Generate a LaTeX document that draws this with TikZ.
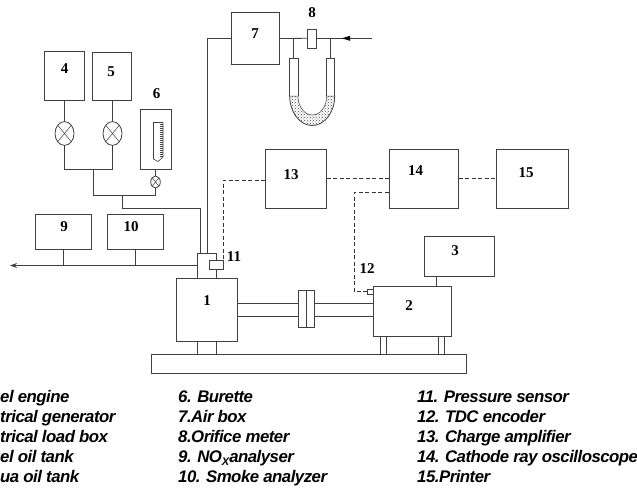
\documentclass[tikz,border=0pt]{standalone}
\usepackage{fontspec}
\setmainfont{Liberation Serif}
\newfontfamily\capfont[LetterSpace=-3]{Liberation Sans}
\usetikzlibrary{arrows.meta,patterns}
\tikzset{
  line/.style={draw=black!75,line width=0.8pt},
  dash line/.style={draw=black!80,line width=0.6pt,dash pattern=on 4pt off 2.5pt},
  num/.style={font=\fontsize{15}{15}\selectfont\bfseries,inner sep=0pt},
  captext/.style={font=\capfont\fontsize{16.8}{17}\selectfont\bfseries\itshape,anchor=base west,inner sep=0pt,text=black},
  box/.style={line,rectangle,inner sep=0pt},
  headtip/.style={-{Stealth[length=7pt,width=5pt]}},
}
\newcommand{\valve}[3]{%
  \draw[line,fill=white] (#1,#2) ellipse [x radius=#3*1.0,y radius=#3*1.25];
  \draw[line,line width=0.5pt] (#1-#3*.7,#2-#3*.85) -- (#1+#3*.7,#2+#3*.85) (#1-#3*.7,#2+#3*.85) -- (#1+#3*.7,#2-#3*.85);}
\begin{document}
\begin{tikzpicture}[x=1pt,y=-1pt]
\useasboundingbox (0,0) rectangle (637,491);
% boxes
\node[box,minimum width=40pt,minimum height=49pt] (n4) at (64.5,76) {};
\node[box,minimum width=39pt,minimum height=48.5pt] (n5) at (112,76.3) {};
\node[box,minimum width=31pt,minimum height=60pt] (n6) at (155.5,139.5) {};
\node[box,minimum width=48.5pt,minimum height=51.6pt] (n7) at (255.5,38.5) {};
\node[box,minimum width=55.5pt,minimum height=35pt] (n9) at (63.3,232) {};
\node[box,minimum width=55.5pt,minimum height=35pt] (n10) at (135.3,232) {};
\node[box,minimum width=60.5pt,minimum height=59pt] (n13) at (296,179) {};
\node[box,minimum width=69pt,minimum height=59pt] (n14) at (423.8,178.8) {};
\node[box,minimum width=72pt,minimum height=59pt] (n15) at (532.5,178.8) {};
\node[box,minimum width=70pt,minimum height=40pt] (n3) at (459,256.4) {};
\node[box,minimum width=61.3pt,minimum height=63pt] (n1) at (207,309.8) {};
\node[box,minimum width=78pt,minimum height=50pt] (n2) at (412.3,311.3) {};
\node[box,minimum width=314.3pt,minimum height=19.2pt] (base) at (308.8,363.9) {};
% pipes
\draw[line] (n4.south) -- (64.5,169.5) -- (112,169.5) -- (n5.south);
\draw[line] (93.5,169.5) -- (93.5,195.5) -- (155.5,195.5) -- (155.5,170);
\draw[line] (122.5,195.5) -- (122.5,208.5) -- (200,208.5) -- (200,253.5);
\draw[line] (n7.west) -- (207,38.5) -- (207,253.5);
% valves
\valve{64.5}{133.5}{9.5}
\valve{112.5}{133.5}{9.5}
\valve{155.5}{182}{4.8}
% burette
\draw[line,line width=0.6pt] (153.5,122.5) -- (163,122.5) -- (163,157) -- (158,161.5) -- (153.5,159) -- cycle;
\foreach \yy in {124,126,...,156} \draw[line,line width=0.5pt] (159.5,\yy) -- (163,\yy);
% exhaust
\coordinate (ex) at (197.3,265.5);
\draw[line] (n9.south) -- (63.3,265.5);
\draw[line] (n10.south) -- (135.3,265.5);
\draw[line,headtip] (ex) -- (10,265.5);
\draw[line] (197.3,278.3) -- (197.3,253.5) -- (216,253.5) -- (216,260.7);
\draw[line] (216,269.3) -- (216,278.3);
\node[box,minimum width=13.6pt,minimum height=8.6pt] (n11) at (216.5,265) {};
% shaft
\draw[line] (237.6,303.3) -- (373.3,303.3) (237.6,316) -- (373.3,316);
\draw[line,fill=white] (298.6,290) rectangle (314.6,327);
\draw[line] (306.6,290) -- (306.6,327);
% feet
\draw[line] (197.3,341.3) -- (197.3,354.3) (216.3,341.3) -- (216.3,354.3);
\draw[line] (380.5,336.3) -- (380.5,354.3) (386.5,336.3) -- (386.5,354.3);
\draw[line] (438.7,336.3) -- (438.7,354.3) (444.5,336.3) -- (444.5,354.3);
\draw[line] (436,276.4) -- (436,286.3);
% dashed
\draw[dash line] (n13.west |- 0,180.3) -- (223.3,180.3) -- (223.3,260.7);
\draw[dash line] (n13.east |- 0,178.5) -- (n14.west |- 0,178.5);
\draw[dash line] (n14.east |- 0,178.5) -- (n15.west |- 0,178.5);
\draw[dash line] (n14.west |- 0,192.7) -- (354,192.7) -- (354,291.7) -- (367,291.7);
\node[box,minimum width=6pt,minimum height=5pt,fill=white] (n12) at (370,291.5) {};
% orifice
\draw[line] (n7.east) -- (307.7,38.3);
\node[box,minimum width=8.3pt,minimum height=19.3pt,fill=white] (n8) at (311.8,38.6) {};
\draw[line] (316,38.3) -- (372,38.3);
\fill[black] (342,38.3) -- (350,35.8) -- (350,40.8) -- cycle;
\draw[line] (293.7,38.3) -- (293.7,58) (330.3,38.3) -- (330.3,58);
% manometer
\fill[pattern=crosshatch dots,pattern color=black!70] (289.7,96) arc[start angle=180,end angle=0,x radius=22.5,y radius=29.5] -- (326.7,96) arc[start angle=0,end angle=180,x radius=14.35,y radius=19] -- cycle;
\draw[line] (289.7,96) -- (289.7,58) -- (298,58) -- (298,96);
\draw[line] (326.7,96) -- (326.7,58) -- (334.7,58) -- (334.7,96);
\draw[line] (289.7,96) arc[start angle=180,end angle=0,x radius=22.5,y radius=29.5];
\draw[line,line width=0.5pt] (289.7,96) -- (298,96) arc[start angle=180,end angle=0,x radius=14.35,y radius=19] -- (334.7,96);
% numbers
\node[num] (t1) at (207,301) {1};
\node[num] (t2) at (409,306) {2};
\node[num] (t3) at (455,251) {3};
\node[num] (t4) at (64.5,69) {4};
\node[num] (t5) at (111,72) {5};
\node[num] (t6) at (156.5,94) {6};
\node[num] (t7) at (255,34) {7};
\node[num] (t8) at (312,13) {8};
\node[num] (t9) at (64,227) {9};
\node[num] (t10) at (131,227) {10};
\node[num] (t11) at (234,257) {11};
\node[num] (t12) at (367,269) {12};
\node[num] (t13) at (291,175) {13};
\node[num] (t14) at (415.5,171) {14};
\node[num] (t15) at (526,173) {15};
% captions
\node[captext] (c1) at (0,402.5) {el engine};
\node[captext] (c2) at (0,422) {trical generator};
\node[captext] (c3) at (0,442) {trical load box};
\node[captext] (c4) at (0,462.5) {el oil tank};
\node[captext] (c5) at (0,482.5) {ua oil tank};
\node[captext] (c6) at (178,402.5) {6. Burette};
\node[captext] (c7) at (178,422) {7.Air box};
\node[captext] (c8) at (178,442) {8.Orifice meter};
\node[captext] (c9) at (178,462.5) {9. NO\raisebox{-2.5pt}{\fontsize{11}{11}\selectfont X}analyser};
\node[captext] (c10) at (178,482.5) {10. Smoke analyzer};
\node[captext] (c11) at (417,402.5) {11. Pressure sensor};
\node[captext] (c12) at (417,422) {12. TDC encoder};
\node[captext] (c13) at (417,442) {13. Charge amplifier};
\node[captext] (c14) at (417,462.5) {14. Cathode ray oscilloscope};
\node[captext] (c15) at (417,482.5) {15.Printer};
\end{tikzpicture}
\end{document}
